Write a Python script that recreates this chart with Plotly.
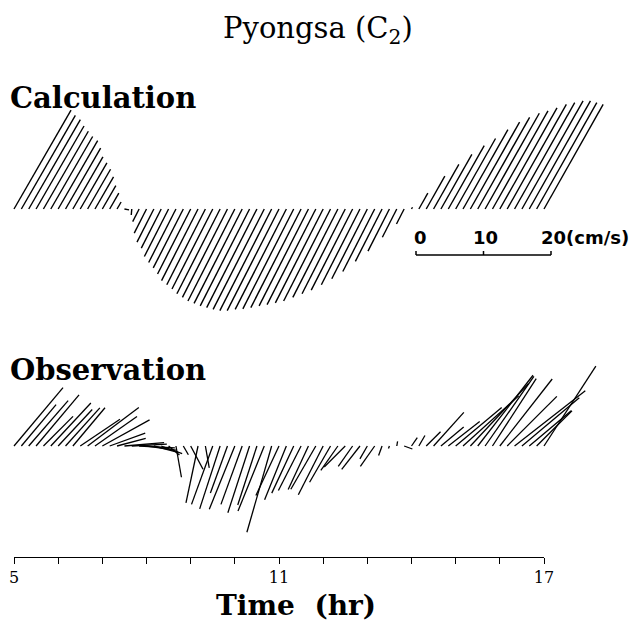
import math
import plotly.graph_objects as go

# ---------------- data ----------------
# time of each current vector (hr), 10-min sampling from 05:00 to 17:00
times = [5 + i / 6 for i in range(73)]

# Calculation: speed (cm/s) and direction (deg, counter-clockwise from east)
calc_speed = [16.9, 16.0, 15.3, 14.2, 13.3, 12.4, 11.7, 10.4, 8.9, 7.9, 6.8, 5.5, 4.0, 2.7, 1.2,
              0.7, 0.9,
              2.1, 4.0, 5.5, 6.5, 7.9, 8.9, 9.8, 10.8, 11.9, 12.6, 13.3, 14.1, 14.7, 15.3, 15.7,
              16.1, 16.4, 16.7, 16.9, 16.9, 16.7, 16.6, 16.4, 16.1, 15.9, 15.6, 15.3, 14.7, 14.1,
              13.5, 12.6, 11.6, 10.4, 8.7, 7.0, 4.7, 2.5,
              0.3,
              2.7, 5.6, 7.6, 9.3, 10.8, 12.0, 13.5, 14.8, 15.6, 16.3, 16.7, 17.2, 17.8, 18.1,
              18.4, 18.4, 18.1, 17.8]
calc_dir = [60, 60, 60, 60, 60, 60, 60, 60, 60, 60, 60, 60, 60, 60, 60,
            -10, 265,
            243, 243, 243, 243, 243, 243, 243, 243, 243, 243, 243, 243, 243, 243, 243,
            243, 243, 243, 243, 243, 243, 243, 243, 243, 243, 243, 243, 243, 243,
            243, 243, 243, 243, 243, 243, 243, 243,
            60,
            60.5, 60.5, 60.5, 60.5, 60.5, 60.5, 60.5, 60.5, 60.5, 60.5, 60.5, 60.5, 60.5, 60.5,
            60.5, 60.5, 60.5, 60.5]

# Observation: speed (cm/s) and direction (deg)
obs_speed = [11.3, 8.0, 8.9, 9.9, 6.2, 8.7, 7.4, 7.6, 7.4, 7.1, 9.5, 7.6, 8.0, 5.6,
             4.4, 5.9, 5.2, 5.3, 4.4, 3.7, 3.3, 2.1, 4.7, 1.5, 3.9,
             8.6, 3.3, 9.2, 9.8, 7.4, 10.1, 9.2, 10.4, 9.2, 10.4, 13.3, 8.1, 8.6, 7.7, 7.4,
             7.1, 7.4, 8.1, 6.2, 4.4, 4.4, 3.7, 4.4, 2.2, 3.7, 1.5, 0.4, 0.7, 1.3,
             1.5, 1.8, 3.0, 6.7, 4.4, 5.9, 8.9, 11.1, 12.6, 13.3, 12.6, 11.9, 12.6, 10.4,
             13.3, 11.1, 8.1, 7.4, 14.1]
obs_dir = [50, 50, 49, 50, 45, 47, 47, 48, 50, 34, 37, 35, 29, 20,
           15, 5, 3, -3, -8, -15, -20, -40, -80, -60, -62,
           258, -80, 250, 252, 250, 248, 250, 252, 252, 248, 254, 245, 248, 245, 243,
           245, 240, 243, 240, 235, 225, 235, 232, 240, 235, 250, 250, 80, -20,
           55, 60, 45, 48, 40, 38, 40, 42, 47, 52, 55, 57, 52, 45,
           38, 40, 40, 45, 57]

time_ticks = list(range(5, 18))
time_labels = ["5", "", "", "", "", "", "11", "", "", "", "", "", "17"]
scale_values = [0, 10, 20]
scale_labels = ["0", "10", "20(cm/s)"]

# ---------------- layout geometry (pixels, page coordinates) ----------------
OFF = 8                                   # page body margin
W, H = 643 - OFF, 638 - OFF


def fx(px):   # page px -> figure paper fraction (x)
    return (px - OFF) / W


def fy(py):   # page px -> figure paper fraction (y)
    return 1 - (py - OFF) / H


X_LEFT_PX, X_RIGHT_PX = 14, 544          # page positions of 5 h and 17 h
HOUR_PX = (X_RIGHT_PX - X_LEFT_PX) / 12.0
CMS_PX = 6.75                             # pixels per cm/s (from the scale bar)
K = CMS_PX / HOUR_PX                      # hours of x-offset per cm/s

X0 = 5 - (X_LEFT_PX - OFF) / HOUR_PX
X1 = X0 + W / HOUR_PX

CALC_TOP, CALC_BASE, CALC_BOT = OFF, 209, 330
OBS_TOP, OBS_BASE, OBS_BOT = 335, 446, 565
AXIS_Y = 557


def pdom(top, bot):
    return [fy(bot), fy(top)]


def sticks(ts, sp, dr):
    xs, ys = [], []
    for t, s, d in zip(ts, sp, dr):
        u = s * math.cos(math.radians(d))
        v = s * math.sin(math.radians(d))
        xs += [t, t + u * K, None]
        ys += [0, v, None]
    return xs, ys


fig = go.Figure()

cx, cy = sticks(times, calc_speed, calc_dir)
fig.add_trace(go.Scatter(x=cx, y=cy, mode="lines", xaxis="x", yaxis="y",
                         line=dict(color="black", width=1.4), hoverinfo="skip",
                         showlegend=False))
ox, oy = sticks(times, obs_speed, obs_dir)
fig.add_trace(go.Scatter(x=ox, y=oy, mode="lines", xaxis="x", yaxis="y2",
                         line=dict(color="black", width=1.3), hoverinfo="skip",
                         showlegend=False))

# velocity scale bar (in calculation panel units)
bar_x0 = X0 + (416 - OFF) / HOUR_PX
bar_y = -(255 - CALC_BASE) / CMS_PX
tick_h = 4 / CMS_PX
bx, by = [], []
bx += [bar_x0 + scale_values[0] * K, bar_x0 + scale_values[-1] * K, None]
by += [bar_y, bar_y, None]
for sv in scale_values:
    bx += [bar_x0 + sv * K, bar_x0 + sv * K, None]
    by += [bar_y, bar_y + tick_h, None]
fig.add_trace(go.Scatter(x=bx, y=by, mode="lines", xaxis="x", yaxis="y",
                         line=dict(color="black", width=1.5), hoverinfo="skip",
                         showlegend=False))
label_y = -(237 - CALC_BASE) / CMS_PX
for sv, lab in zip(scale_values, scale_labels):
    fig.add_annotation(x=bar_x0 + sv * K, y=label_y, xref="x", yref="y",
                       text="<b>" + lab + "</b>",
                       showarrow=False, xanchor="center" if sv < 20 else "left",
                       xshift=(4 if sv == 0 else 2) if sv < 20 else -12,
                       font=dict(family="DejaVu Sans", size=18, color="black"),
                       yanchor="middle")

# dummy trace for time axis subplot
fig.add_trace(go.Scatter(x=[5, 17], y=[0, 0], mode="markers", xaxis="x3", yaxis="y3",
                         marker=dict(opacity=0), hoverinfo="skip", showlegend=False))

serif = "DejaVu Serif"

fig.update_layout(
    width=W, height=H, autosize=False,
    margin=dict(l=0, r=0, t=0, b=0, pad=0, autoexpand=False),
    paper_bgcolor="white", plot_bgcolor="white",
    xaxis=dict(domain=[0, 1], range=[X0, X1], visible=False, anchor="y",
               automargin=False),
    yaxis=dict(domain=pdom(CALC_TOP, CALC_BOT),
               range=[-(CALC_BOT - CALC_BASE) / CMS_PX, (CALC_BASE - CALC_TOP) / CMS_PX],
               visible=False, anchor="x", automargin=False),
    yaxis2=dict(domain=pdom(OBS_TOP, OBS_BOT),
                range=[-(OBS_BOT - OBS_BASE) / CMS_PX, (OBS_BASE - OBS_TOP) / CMS_PX],
                visible=False, anchor="x", automargin=False),
    xaxis3=dict(domain=[fx(X_LEFT_PX), fx(X_RIGHT_PX)], range=[5, 17], anchor="y3",
                tickmode="array", tickvals=time_ticks, ticktext=time_labels,
                ticks="outside", ticklen=6, tickwidth=1.2, tickcolor="black",
                showline=True, linecolor="black", linewidth=1.3,
                showgrid=False, zeroline=False, automargin=False,
                tickfont=dict(family=serif, size=16, color="black")),
    yaxis3=dict(domain=pdom(AXIS_Y - 10, AXIS_Y), range=[0, 1], visible=False,
                anchor="x3", automargin=False),
)

fig.add_annotation(x=fx(318), y=fy(30), xref="paper", yref="paper",
                   text="Pyongsa (C<sub>2</sub>)", showarrow=False,
                   font=dict(family=serif, size=29, color="black"),
                   xanchor="center", yanchor="middle")
fig.add_annotation(x=fx(8), y=fy(98), xref="paper", yref="paper",
                   text="<b>Calculation</b>", showarrow=False,
                   font=dict(family=serif, size=29, color="black"),
                   xanchor="left", yanchor="middle")
fig.add_annotation(x=fx(8), y=fy(370), xref="paper", yref="paper",
                   text="<b>Observation</b>", showarrow=False,
                   font=dict(family=serif, size=29, color="black"),
                   xanchor="left", yanchor="middle")
fig.add_annotation(x=fx(296), y=fy(605), xref="paper", yref="paper",
                   text="<b>Time\u00a0\u00a0(hr)</b>", showarrow=False,
                   font=dict(family=serif, size=28, color="black"),
                   xanchor="center", yanchor="middle")

fig.write_html("out.html")
